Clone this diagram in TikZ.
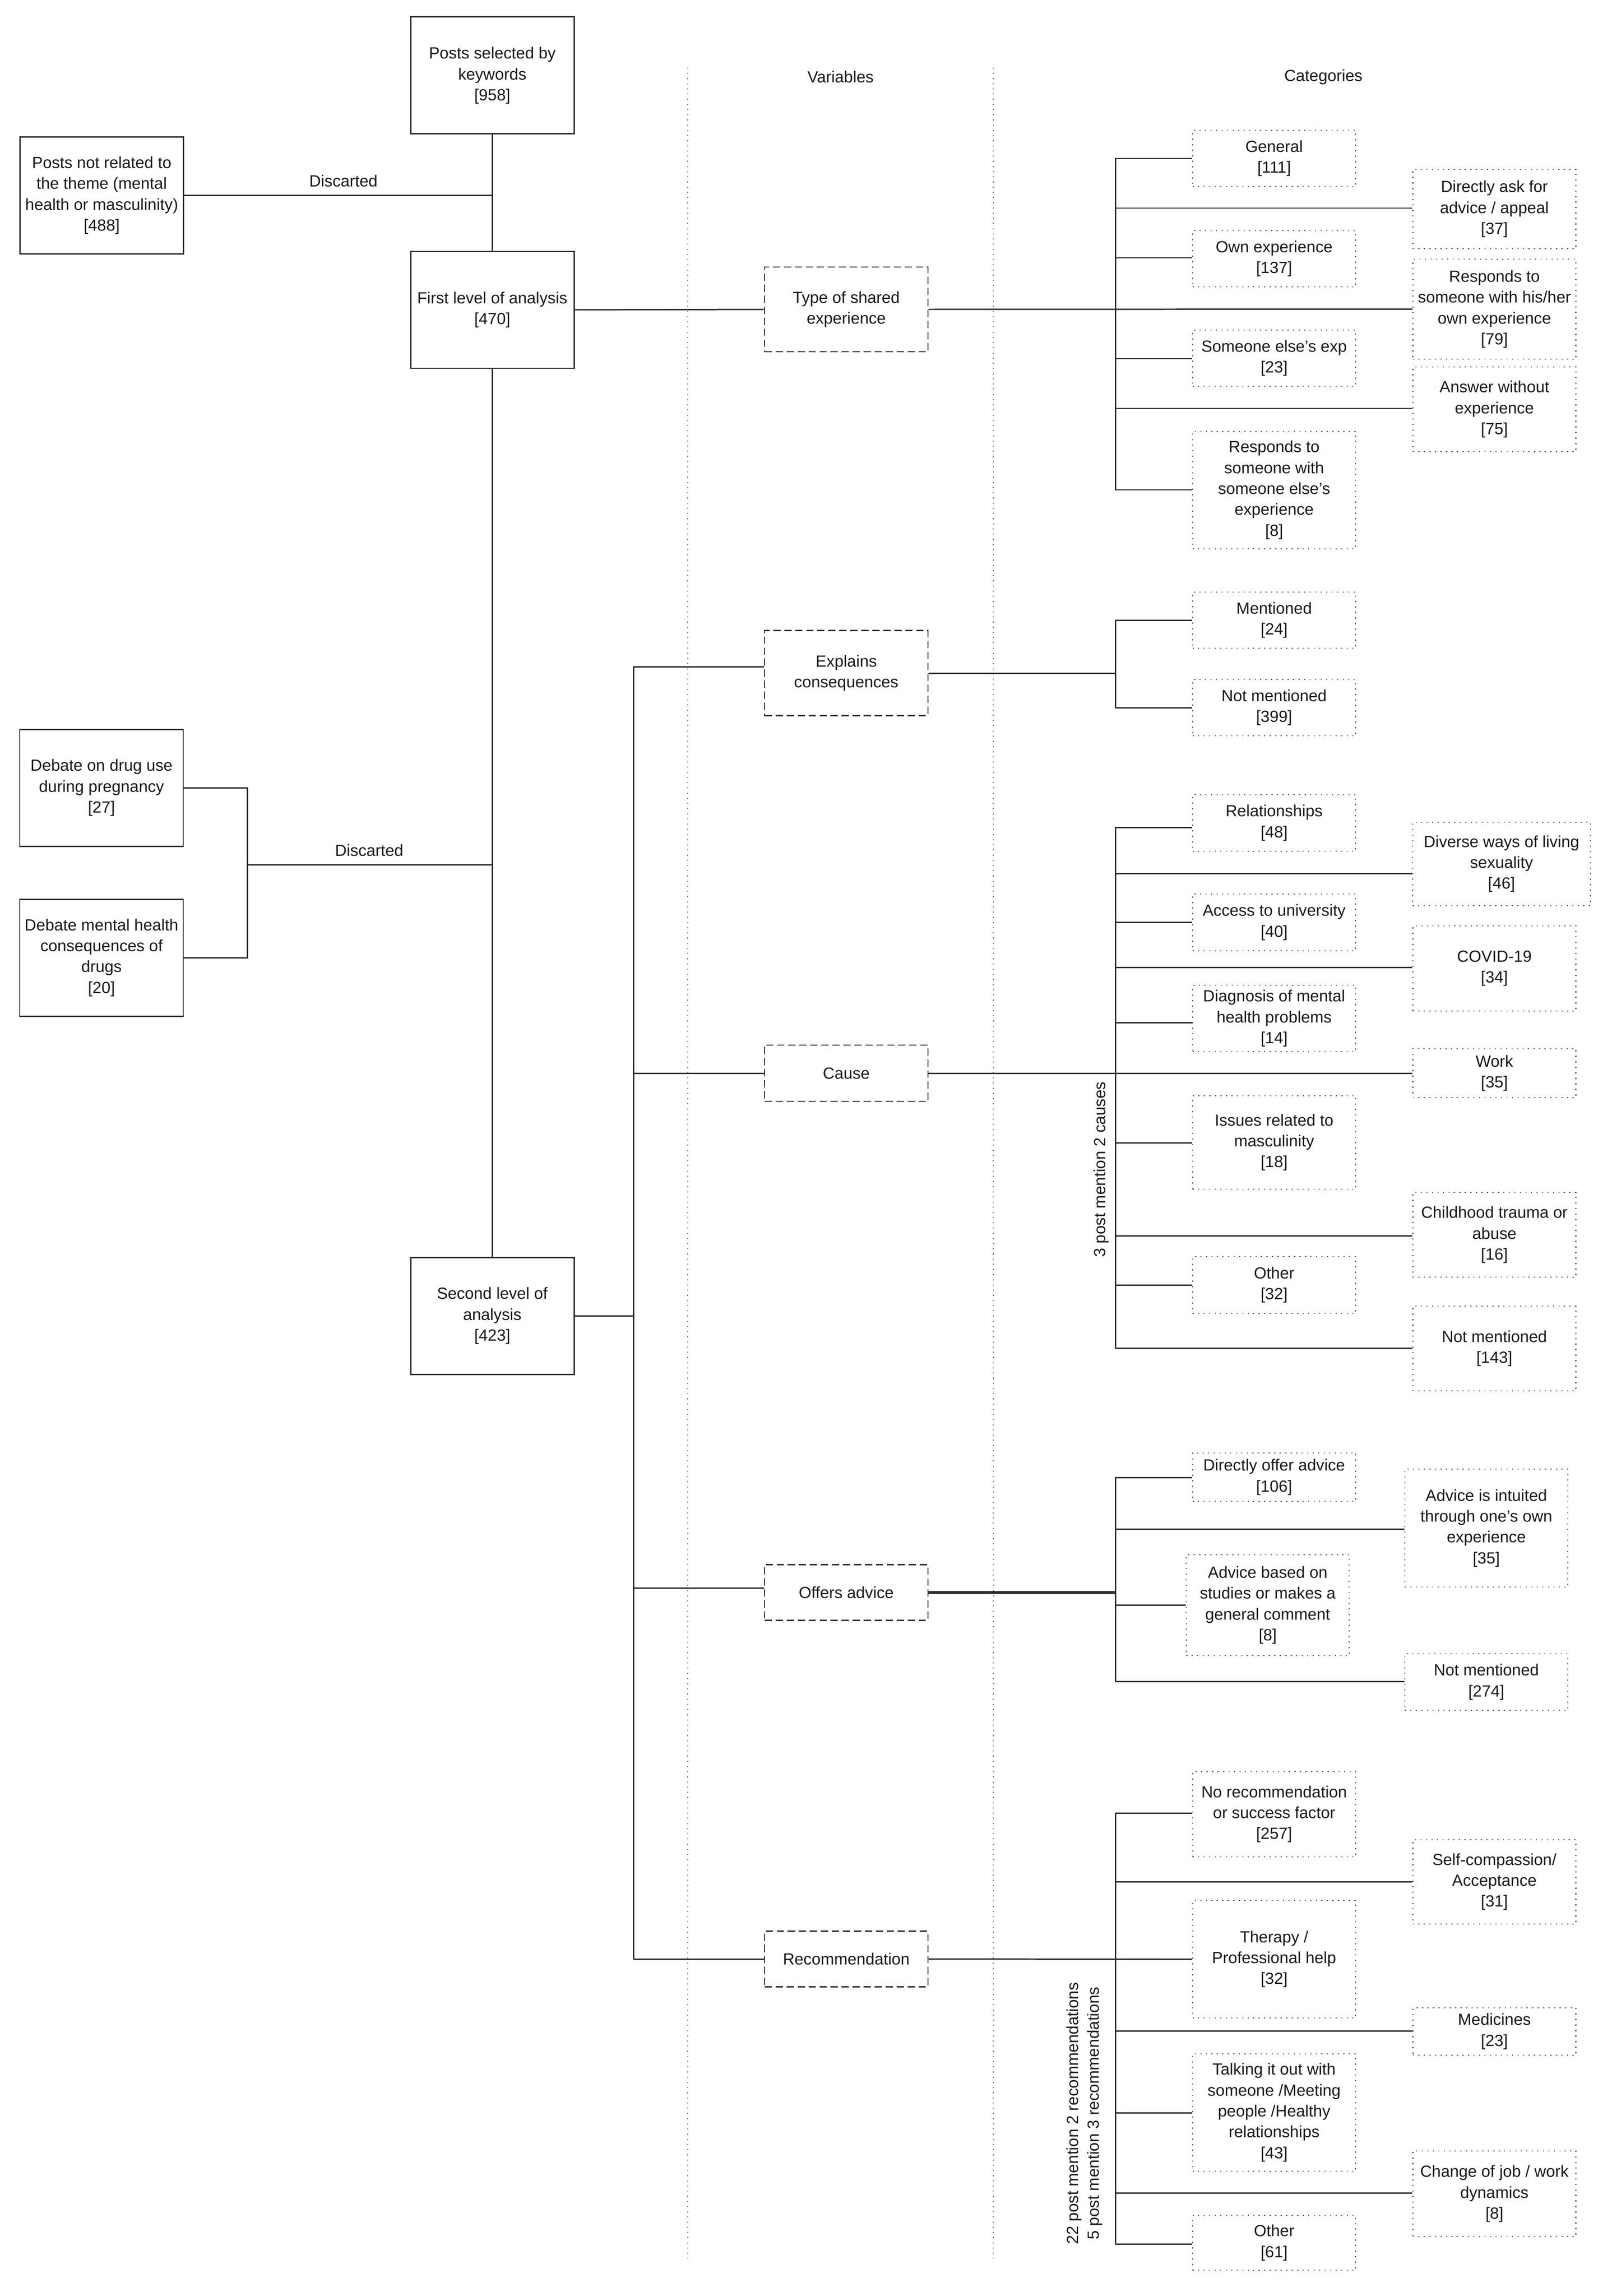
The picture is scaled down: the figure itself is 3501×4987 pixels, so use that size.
\documentclass[tikz,border=0pt]{standalone}
\usepackage{fontspec}
\setmainfont{Liberation Sans}
\definecolor{lc}{HTML}{2B2B2B}
\definecolor{dc}{HTML}{5A5A5A}
\definecolor{colc}{HTML}{707070}
\definecolor{tc}{HTML}{1A1A1A}
\newcommand\branchto[2]{\draw[link] (2423,#2) -- (#1.west |- 0,#2);}
\begin{document}
\begin{tikzpicture}[x=0.1mm,y=-0.1mm,
  every node/.style={font=\fontsize{10}{12.9}\selectfont, text=tc},
  mainbox/.style={draw=lc, line width=0.85pt, minimum width=35.5mm, minimum height=25.4mm, align=center, inner sep=0pt},
  varbox/.style={draw=lc, line width=0.8pt, dash pattern=on 4.5pt off 2.3pt, minimum width=35.5mm, align=center, inner sep=0pt},
  catbox/.style={draw=dc, line width=0.7pt, dash pattern=on 0.7pt off 2.7pt, minimum width=35.4mm, align=center, inner sep=0pt},
  link/.style={draw=lc, line width=0.85pt},
  thicklink/.style={draw=lc, line width=1.6pt},
  colline/.style={draw=colc, line width=0.6pt, dash pattern=on 0.6pt off 2.6pt},
  lbl/.style={inner sep=0pt}]
\fill[white] (0,0) rectangle (3501,4987);
\useasboundingbox (0,0) rectangle (3501,4987);

% column separators and headings
\coordinate (colAtop) at (1494,147);
\coordinate (colAbot) at (1494,4905);
\coordinate (colBtop) at (2158,147);
\coordinate (colBbot) at (2158,4905);
\draw[colline] (colAtop) -- (colAbot);
\draw[colline] (colBtop) -- (colBbot);
\node[lbl] (hvar) at (1826,167) {Variables};
\node[lbl] (hcat) at (2875,167) {Categories};

% main boxes
\node[mainbox] (post) at (1069.5,164) {Posts selected by\\keywords\\{[958]}};
\node[mainbox] (notrel) at (221,424.5) {Posts not related to\\the theme (mental\\health or masculinity)\\{[488]}};
\node[mainbox] (first) at (1069.5,673) {First level of analysis\\{[470]}};
\node[mainbox] (second) at (1069.5,2858) {Second level of\\analysis\\{[423]}};
\node[mainbox] (drug) at (220.5,1711) {Debate on drug use\\during pregnancy\\{[27]}};
\node[mainbox] (mental) at (220.5,2080) {Debate mental health\\consequences of\\drugs\\{[20]}};

% variable boxes
\node[varbox, minimum height=18.4mm] (vtype) at (1838.5,672) {Type of shared\\experience};
\node[varbox, minimum height=18.5mm] (vcons) at (1838.5,1462) {Explains\\consequences};
\node[varbox, minimum height=12.2mm] (vcause) at (1838.5,2331) {Cause};
\node[varbox, minimum height=12.1mm] (vadv) at (1838.5,3459) {Offers advice};
\node[varbox, minimum height=12.1mm] (vrec) at (1838.5,4255) {Recommendation};

% categories: type of shared experience
\node[catbox, minimum height=12.2mm] (gen) at (2768,344) {General\\{[111]}};
\node[catbox, minimum height=17.2mm] (dir) at (3246.5,454) {Directly ask for\\advice / appeal\\{[37]}};
\node[catbox, minimum height=12.2mm] (own) at (2768,562) {Own experience\\{[137]}};
\node[catbox, minimum height=21.7mm] (resp) at (3246.5,671.5) {Responds to\\someone with his/her\\own experience\\{[79]}};
\node[catbox, minimum height=12.2mm] (else) at (2768,778) {Someone else's exp\\{[23]}};
\node[catbox, minimum height=18.4mm] (answer) at (3246.5,889) {Answer without\\experience\\{[75]}};
\node[catbox, minimum height=25.5mm] (respelse) at (2768,1064.5) {Responds to\\someone with\\someone else's\\experience\\{[8]}};

% categories: consequences
\node[catbox, minimum height=12.2mm] (ment) at (2768,1347) {Mentioned\\{[24]}};
\node[catbox, minimum height=12.2mm] (notmA) at (2768,1537) {Not mentioned\\{[399]}};

% categories: cause
\node[catbox, minimum height=12.3mm] (rel) at (2768,1787.5) {Relationships\\{[48]}};
\node[catbox, minimum height=18.1mm, minimum width=38.6mm] (div) at (3262,1876.5) {Diverse ways of living\\sexuality\\{[46]}};
\node[catbox, minimum height=12.3mm] (acc) at (2768,2003.5) {Access to university\\{[40]}};
\node[catbox, minimum height=18.5mm] (covid) at (3246.5,2103.5) {COVID-19\\{[34]}};
\node[catbox, minimum height=14.4mm] (diag) at (2768,2212) {Diagnosis of mental\\health problems\\{[14]}};
\node[catbox, minimum height=10.6mm] (work) at (3246.5,2331) {Work\\{[35]}};
\node[catbox, minimum height=20.3mm] (iss) at (2768,2481.5) {Issues related to\\masculinity\\{[18]}};
\node[catbox, minimum height=18.4mm] (child) at (3246.5,2682) {Childhood trauma or\\abuse\\{[16]}};
\node[catbox, minimum height=12.4mm] (othA) at (2768,2791) {Other\\{[32]}};
\node[catbox, minimum height=18.4mm] (notmB) at (3246.5,2929) {Not mentioned\\{[143]}};

% categories: offers advice
\node[catbox, minimum height=10.5mm] (doff) at (2768,3208.5) {Directly offer advice\\{[106]}};
\node[catbox, minimum height=25.6mm] (intu) at (3229,3319) {Advice is intuited\\through one's own\\experience\\{[35]}};
\node[catbox, minimum height=21.9mm] (based) at (2754,3486.5) {Advice based on\\studies or makes a\\general comment\\{[8]}};
\node[catbox, minimum height=12.3mm] (notmC) at (3229,3653.5) {Not mentioned\\{[274]}};

% categories: recommendation
\node[catbox, minimum height=18.5mm] (norec) at (2768,3940.5) {No recommendation\\or success factor\\{[257]}};
\node[catbox, minimum height=18.3mm] (self) at (3246.5,4087.5) {Self-compassion/\\Acceptance\\{[31]}};
\node[catbox, minimum height=25.5mm] (ther) at (2768,4255.5) {Therapy /\\Professional help\\{[32]}};
\node[catbox, minimum height=10.3mm] (med) at (3246.5,4412.5) {Medicines\\{[23]}};
\node[catbox, minimum height=25.5mm] (talk) at (2768,4588.5) {Talking it out with\\someone /Meeting\\people /Healthy\\relationships\\{[43]}};
\node[catbox, minimum height=18.6mm] (chg) at (3246.5,4765) {Change of job / work\\dynamics\\{[8]}};
\node[catbox, minimum height=11.9mm] (othB) at (2768,4871.5) {Other\\{[61]}};

% notes
\node[lbl, rotate=90] (noteA) at (2392,2540) {3 post mention 2 causes};
\node[lbl, rotate=90, align=center] (noteB) at (2356,4590) {22 post mention 2 recommendations\\5 post mention 3 recommendations};

% left part connectors
\draw[link] (post) -- (first);
\draw[link] (first) -- (second);
\draw[link] (notrel.east) -- (notrel.east -| post.south);
\node[lbl] (discA) at (746,393) {Discarted};
\coordinate (brk) at (537,1878);
\draw[link] (drug.east) -| (brk) |- (mental.east);
\draw[link] (brk) -- (brk -| first.south);
\node[lbl] (discB) at (802,1847) {Discarted};

% first level
\draw[link] (first.east) -- (vtype.west);

% second level trunk
\coordinate (ttop) at (1376,1448);
\coordinate (tbot) at (1376,4255);
\draw[link] (second.east) -- (second.east -| ttop);
\draw[link] (ttop) -- (tbot);
\draw[link] (ttop) -- (ttop -| vcons.west);
\draw[link] (ttop |- vcause.west) -- (vcause.west);
\draw[link] (1376,3449) -- (vadv.west |- 0,3449);
\draw[link] (tbot) -- (vrec.west);

% type bus
\coordinate (busAt) at (2423,344);
\coordinate (busAb) at (2423,1064);
\draw[link] (busAt) -- (busAb);
\draw[link] (vtype.east) -- (resp.west);
\branchto{gen}{344}
\branchto{dir}{452}
\branchto{own}{560}
\branchto{else}{779}
\branchto{answer}{887}
\branchto{respelse}{1064}

% consequences bus
\coordinate (busBt) at (2423,1347);
\coordinate (busBb) at (2423,1537);
\draw[link] (busBt) -- (busBb);
\draw[link] (vcons.east) -- (vcons.east -| busBt);
\branchto{ment}{1347}
\branchto{notmA}{1537}

% cause bus
\coordinate (busCt) at (2423,1797);
\coordinate (busCb) at (2423,2928);
\draw[link] (busCt) -- (busCb);
\draw[link] (vcause.east) -- (work.west);
\branchto{rel}{1797}
\branchto{div}{1897}
\branchto{acc}{2003}
\branchto{covid}{2101}
\branchto{diag}{2221}
\branchto{iss}{2482}
\branchto{child}{2684}
\branchto{othA}{2791}
\branchto{notmB}{2928}

% offers advice bus
\coordinate (busDt) at (2423,3209);
\coordinate (busDb) at (2423,3652);
\draw[link] (busDt) -- (busDb);
\draw[thicklink] (vadv.east) -- (vadv.east -| busDt);
\branchto{doff}{3209}
\branchto{intu}{3321}
\branchto{based}{3486}
\branchto{notmC}{3652}

% recommendation bus
\coordinate (busEt) at (2423,3938);
\coordinate (busEb) at (2423,4874);
\draw[link] (busEt) -- (busEb);
\draw[link] (vrec.east) -- (ther.west);
\branchto{norec}{3938}
\branchto{self}{4087}
\branchto{med}{4411}
\branchto{talk}{4589}
\branchto{chg}{4763}
\branchto{othB}{4874}
\end{tikzpicture}
\end{document}
